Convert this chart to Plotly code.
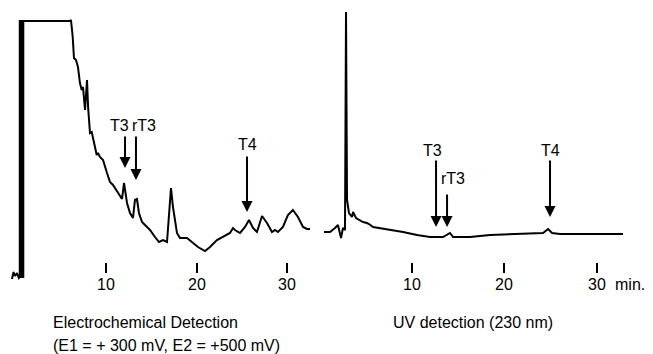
import plotly.graph_objects as go

# ---- Electrochemical detection trace (time in min, detector response, arbitrary units)
ec_time = [-0.41, -0.24, -0.08, 0.14, 0.36, 0.45, 0.45, 0.64, 0.64, 0.84, 0.84, 6.00, 6.11, 6.30,
           6.44, 6.66, 6.88, 7.10, 7.29, 7.44, 7.66, 7.88, 8.00, 8.21, 8.40, 8.54, 8.76, 8.95,
           9.09, 9.31, 9.65, 10.09, 10.42, 10.75, 10.98, 11.31, 11.75, 11.97, 12.30, 12.63,
           12.96, 13.18, 13.40, 13.62, 13.96, 14.29, 14.84, 15.39, 15.83, 16.28, 16.72, 17.16,
           17.38, 17.82, 18.15, 18.93, 19.48, 20.14, 20.92, 21.47, 22.24, 22.91, 23.68, 24.01,
           24.23, 24.79, 25.34, 25.78, 26.22, 26.66, 27.22, 27.77, 28.32, 28.65, 28.98, 29.53,
           30.08, 30.63, 31.19, 31.75, 32.19, 32.52]
ec_signal = [1, 8, 4, 7, 2, 3, 259, 259, 3, 3, 259, 259, 260, 243,
             222, 220, 213, 197, 190, 193, 170, 200, 173, 147, 148, 143, 133, 125,
             127, 123, 120, 107, 98, 95, 92, 87, 81, 97, 77, 67,
             62, 80, 81, 67, 58, 55, 50, 43, 38, 40, 38, 92,
             73, 47, 42, 42, 38, 33, 29, 33, 40, 43, 47, 52,
             50, 47, 53, 60, 52, 48, 64, 57, 48, 50, 48, 53,
             65, 70, 63, 53, 51, 51]

# ---- UV detection trace (230 nm)
uv_time = [0.54, 1.19, 1.73, 2.05, 2.38, 2.59, 2.81, 2.92, 3.03, 3.24, 3.57, 3.68, 4.00, 4.43,
           4.76, 5.19, 5.41, 5.84, 7.35, 9.08, 10.59, 12.00, 13.41, 14.16, 14.49, 16.32,
           18.49, 21.73, 24.22, 24.76, 25.19, 26.05, 28.97, 32.86]
uv_signal = [48, 48, 52, 55, 42, 52, 50, 268, 80, 67, 63, 68, 62, 60,
             58, 57, 56, 53, 51, 48, 45, 43, 43, 47, 43, 43,
             45, 46, 47, 51, 47, 46, 46, 46]

# ---- Peak markers: label, label position, arrow tail, arrow tip
ec_peaks = ["T3", "rT3", "T4"]
ec_label_t = [11.43, 14.18, 25.56]
ec_label_s = [155, 155, 136]
ec_arrow_t = [12.08, 13.29, 25.56]
ec_arrow_tail = [145, 145, 125]
ec_arrow_tip = [112, 100, 68]

uv_peaks = ["T3", "rT3", "T4"]
uv_label_t = [12.32, 14.49, 24.97]
uv_label_s = [130, 102, 130]
uv_arrow_t = [12.65, 13.84, 24.97]
uv_arrow_tail = [121, 87, 121]
uv_arrow_tip = [53, 53, 63]

tick_vals = [10, 20, 30]
tick_text = ["10", "20", "30"]

FONT = "Liberation Sans, Arial, Helvetica, sans-serif"
W, H, OFF = 645, 346, 8   # page body has an 8 px margin


def px(x):
    return (x - OFF) / W


def py(y):
    return 1 - (y - OFF) / H


fig = go.Figure()
fig.add_trace(go.Scatter(x=ec_time, y=ec_signal, mode="lines", xaxis="x", yaxis="y",
                         line=dict(color="black", width=2), hoverinfo="skip"))
fig.add_trace(go.Scatter(x=uv_time, y=uv_signal, mode="lines", xaxis="x2", yaxis="y",
                         line=dict(color="black", width=2), hoverinfo="skip"))

ann = []
for xr, yr, labs, lt, ls, at, atail, atip in [
        ("x", "y", ec_peaks, ec_label_t, ec_label_s, ec_arrow_t, ec_arrow_tail, ec_arrow_tip),
        ("x2", "y", uv_peaks, uv_label_t, uv_label_s, uv_arrow_t, uv_arrow_tail, uv_arrow_tip)]:
    for i in range(len(labs)):
        ann.append(dict(x=lt[i], y=ls[i], xref=xr, yref=yr, text=labs[i], showarrow=False,
                        font=dict(family=FONT, size=16, color="black")))
        ann.append(dict(x=at[i], y=atip[i], ax=at[i], ay=atail[i], xref=xr, yref=yr,
                        axref=xr, ayref=yr, text="", showarrow=True,
                        arrowhead=2, arrowsize=1.1, arrowwidth=2, arrowcolor="black"))
    for v, t in zip(tick_vals, tick_text):
        ann.append(dict(x=v, y=py(284), xref=xr, yref="paper", text=t, showarrow=False,
                        yanchor="middle", font=dict(family=FONT, size=16, color="black")))

ann.append(dict(x=px(630), y=py(284), xref="paper", yref="paper", text="min.",
                showarrow=False, xanchor="center", yanchor="middle",
                font=dict(family=FONT, size=16, color="black")))
ann.append(dict(x=px(51), y=py(322), xref="paper", yref="paper",
                text="Electrochemical Detection", showarrow=False, xanchor="left",
                yanchor="middle", font=dict(family=FONT, size=16, color="black")))
ann.append(dict(x=px(51), y=py(345), xref="paper", yref="paper",
                text="(E1 = + 300 mV, E2 = +500 mV)", showarrow=False, xanchor="left",
                yanchor="middle", font=dict(family=FONT, size=16, color="black")))
ann.append(dict(x=px(391), y=py(322), xref="paper", yref="paper",
                text="UV detection (230 nm)", showarrow=False, xanchor="left",
                yanchor="middle", font=dict(family=FONT, size=16, color="black")))

axis_common = dict(showgrid=False, zeroline=False, showline=False, ticks="outside",
                   ticklen=10, tickwidth=2, tickcolor="black", tickvals=tick_vals,
                   showticklabels=False, anchor="free", position=py(262))

fig.update_layout(
    width=W, height=H, margin=dict(l=0, r=0, t=0, b=0),
    paper_bgcolor="white", plot_bgcolor="white", showlegend=False,
    xaxis=dict(domain=[0, px(330)], range=[-0.85, 34.73], **axis_common),
    xaxis2=dict(domain=[px(320), 1], range=[0.108, 36.1], **axis_common),
    yaxis=dict(domain=[0, 1], range=[-74, 272], visible=False),
    annotations=ann,
)

fig.write_html("out.html")
